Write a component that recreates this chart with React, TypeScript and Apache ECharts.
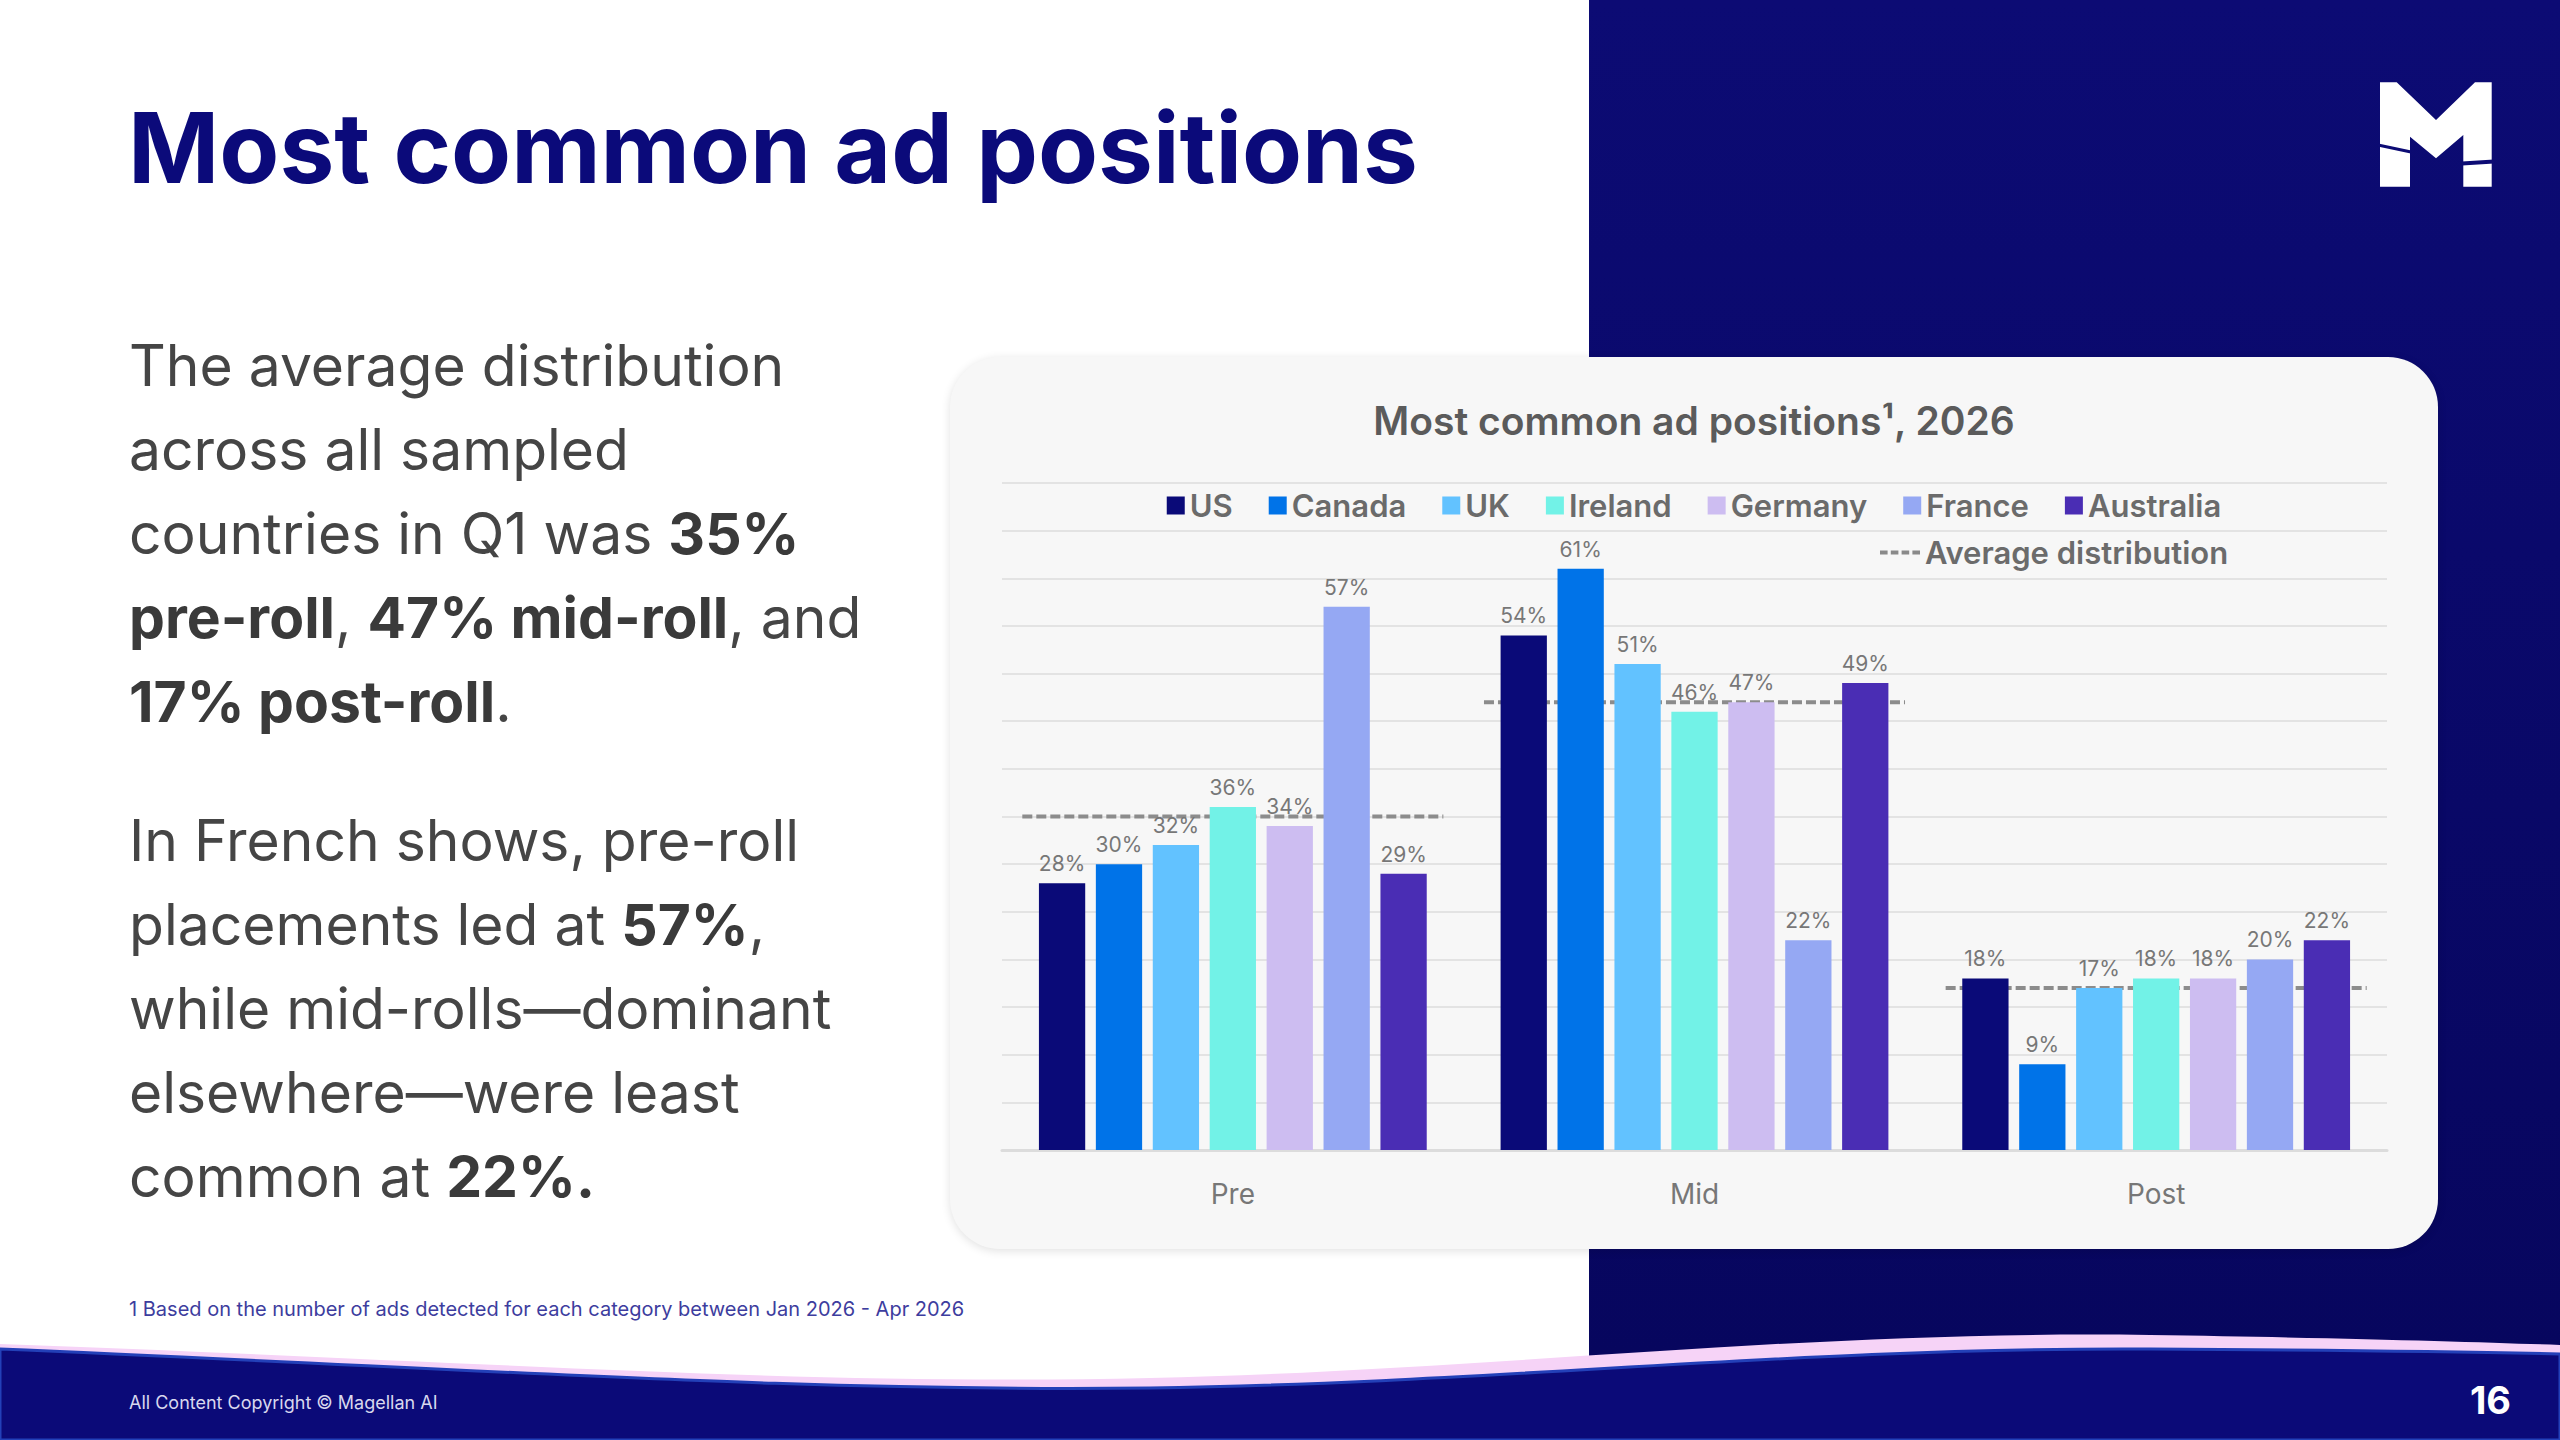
import React, { useEffect, useRef } from "react";
import * as echarts from "echarts";

const categories = ["Pre", "Mid", "Post"];
const countries = ["US", "Canada", "UK", "Ireland", "Germany", "France", "Australia"];
const usValues = [28, 54, 18];
const canadaValues = [30, 61, 9];
const ukValues = [32, 51, 17];
const irelandValues = [36, 46, 18];
const germanyValues = [34, 47, 18];
const franceValues = [57, 22, 20];
const australiaValues = [29, 49, 22];
const averageValues = [35, 47, 17];
const countryColors = ["#0a0a78", "#0073e8", "#62c2ff", "#72f2e7", "#cdbdf1", "#95a8f3", "#4a2db4"];
const yMin = 0;
const yMax = 70;
const yInterval = 5;

const seriesValues = [usValues, canadaValues, ukValues, irelandValues, germanyValues, franceValues, australiaValues];

const FONT = "Inter, 'Open Sans', sans-serif";

function Chart() {
  const ref = useRef<HTMLDivElement>(null);
  useEffect(() => {
    if (!ref.current) return;
    const chart = echarts.init(ref.current, null, { renderer: "svg" });
    const barSeries = countries.map((name, i) => ({
      name,
      type: "bar",
      data: seriesValues[i],
      barGap: "23%",
      barCategoryGap: "16%",
      z: 3,
      itemStyle: { color: countryColors[i] },
      label: {
        show: true,
        position: "top",
        distance: 9,
        formatter: "{c}%",
        fontFamily: FONT,
        fontSize: 21,
        color: "#777777",
      },
    }));
    const option: any = {
      animation: false,
      textStyle: { fontFamily: FONT },
      title: {
        text: "Most common ad positions¹, 2026",
        left: "center",
        top: 39,
        textStyle: { fontFamily: FONT, fontSize: 39, fontWeight: 600, color: "#5b5b5b" },
      },
      legend: [
        {
          data: countries,
          left: "center",
          top: 128,
          icon: "rect",
          itemWidth: 18,
          itemHeight: 18,
          itemGap: 36,
          textStyle: { fontFamily: FONT, fontSize: 31, fontWeight: 600, color: "#6b6b6b" },
        },
        {
          data: [
            {
              name: "Average distribution",
              icon: "path://M0,0h1.9v1h-1.9z M2.7,0h1.9v1h-1.9z M5.4,0h1.9v1h-1.9z M8.1,0h1.9v1h-1.9z",
            },
          ],
          left: 925,
          top: 175,
          itemWidth: 40,
          itemHeight: 4,
          textStyle: { fontFamily: FONT, fontSize: 31, fontWeight: 600, color: "#6b6b6b" },
        },
      ],
      grid: { left: 52, right: 51, top: 126, bottom: 99, containLabel: false },
      xAxis: {
        type: "category",
        data: categories,
        axisTick: { show: false },
        axisLine: { lineStyle: { color: "#dcdcdc", width: 3 } },
        axisLabel: { fontFamily: FONT, fontSize: 28, color: "#777777", margin: 30 },
      },
      yAxis: {
        type: "value",
        min: yMin,
        max: yMax,
        interval: yInterval,
        axisLabel: { show: false },
        axisLine: { show: false },
        axisTick: { show: false },
        splitLine: { lineStyle: { color: "#e3e3e3", width: 2 } },
      },
      series: [
        ...barSeries,
        {
          name: "Average distribution",
          type: "custom",
          z: 1,
          itemStyle: { color: "#8a8a8a" },
          data: averageValues.map((v, i) => [i, v]),
          encode: { x: 0, y: 1 },
          renderItem: (params: any, api: any) => {
            const p = api.coord([api.value(0), api.value(1)]);
            const w = api.size([1, 0])[0];
            return {
              type: "line",
              shape: { x1: p[0] - w * 0.456, y1: p[1], x2: p[0] + w * 0.456, y2: p[1] },
              style: { stroke: "#8c8c8c", lineWidth: 4, lineDash: [10, 4] },
            };
          },
        },
      ],
    };
    chart.setOption(option);
    return () => chart.dispose();
  }, []);
  return (
    <div
      ref={ref}
      style={{
        position: "absolute",
        left: 950,
        top: 357,
        width: 1488,
        height: 892,
        background: "#f7f7f7",
        borderRadius: 50,
        overflow: "hidden",
        boxShadow: "0 2px 10px rgba(0,0,0,0.12)",
      }}
    />
  );
}

export default function App() {
  useEffect(() => {
    document.body.style.margin = "0";
  }, []);
  const bodyStyle: React.CSSProperties = {
    position: "absolute",
    left: 129,
    fontFamily: FONT,
    fontSize: 57,
    lineHeight: "84px",
    color: "#454545",
    fontWeight: 400,
    margin: 0,
    whiteSpace: "nowrap",
  };
  const b: React.CSSProperties = { fontWeight: 700, color: "#3a3a3a" };
  return (
    <div
      style={{
        position: "fixed",
        left: 0,
        top: 0,
        width: 2560,
        height: 1440,
        overflow: "hidden",
        background: "#ffffff",
        fontFamily: FONT,
      }}
    >
      <div
        style={{
          position: "absolute",
          left: 1589,
          top: 0,
          width: 971,
          height: 1356,
          background: "linear-gradient(180deg, #0c0b74 0%, #07065e 100%)",
        }}
      />
      <svg
        width={2560}
        height={1440}
        viewBox="0 0 2560 1440"
        style={{ position: "absolute", left: 0, top: 0 }}
      >
        <polygon
          points="2380,82.3 2396.7,82.3 2436,120 2475,82.3 2491.7,82.3 2491.7,186.7 2463.3,186.7 2463.3,135 2436,158.3 2410,136.7 2410,186.7 2380,186.7"
          fill="#ffffff"
        />
        <line x1={2378} y1={145} x2={2411} y2={152} stroke="#0c0b74" strokeWidth={3} />
        <line x1={2462} y1={163.5} x2={2494} y2={161.5} stroke="#0c0b74" strokeWidth={4} />
        <path
          d="M0,1344 C500,1362 800,1386 1150,1378 C1500,1370 1800,1330 2150,1335 C2350,1338 2480,1342 2560,1345 L2560,1440 L0,1440 Z"
          fill="#f6d3f7"
        />
        <path
          d="M0,1349 C500,1370 800,1392 1150,1388 C1500,1383 1800,1347 2150,1349 C2350,1350 2480,1352 2560,1354 L2560,1440 L0,1440 Z"
          fill="#0b0a78"
          stroke="#2340b8"
          strokeWidth={3}
        />
      </svg>
      <div
        style={{
          position: "absolute",
          left: 128,
          top: 99,
          fontFamily: FONT,
          fontSize: 98,
          lineHeight: "98px",
          fontWeight: 700,
          color: "#0b0a7a",
          letterSpacing: 0,
          whiteSpace: "nowrap",
        }}
      >
        Most common ad positions
      </div>
      <div style={{ ...bodyStyle, top: 324 }}>
        The average distribution
        <br />
        across all sampled
        <br />
        countries in Q1 was <span style={b}>35%</span>
        <br />
        <span style={b}>pre-roll</span>, <span style={b}>47% mid-roll</span>, and
        <br />
        <span style={b}>17% post-roll</span>.
      </div>
      <div style={{ ...bodyStyle, top: 799 }}>
        In French shows, pre-roll
        <br />
        placements led at <span style={b}>57%</span>,
        <br />
        while mid-rolls—dominant
        <br />
        elsewhere—were least
        <br />
        common at <span style={b}>22%.</span>
      </div>
      <div
        style={{
          position: "absolute",
          left: 129,
          top: 1296,
          fontSize: 20,
          lineHeight: "26px",
          color: "#3d3d9e",
          whiteSpace: "nowrap",
        }}
      >
        1 Based on the number of ads detected for each category between Jan 2026 - Apr 2026
      </div>
      <Chart />
      <div
        style={{
          position: "absolute",
          left: 129,
          top: 1391,
          fontSize: 18,
          lineHeight: "24px",
          color: "#d8d8ee",
          whiteSpace: "nowrap",
        }}
      >
        All Content Copyright © Magellan AI
      </div>
      <div
        style={{
          position: "absolute",
          right: 49,
          top: 1378,
          fontSize: 38,
          lineHeight: "44px",
          fontWeight: 700,
          color: "#ffffff",
        }}
      >
        16
      </div>
    </div>
  );
}
